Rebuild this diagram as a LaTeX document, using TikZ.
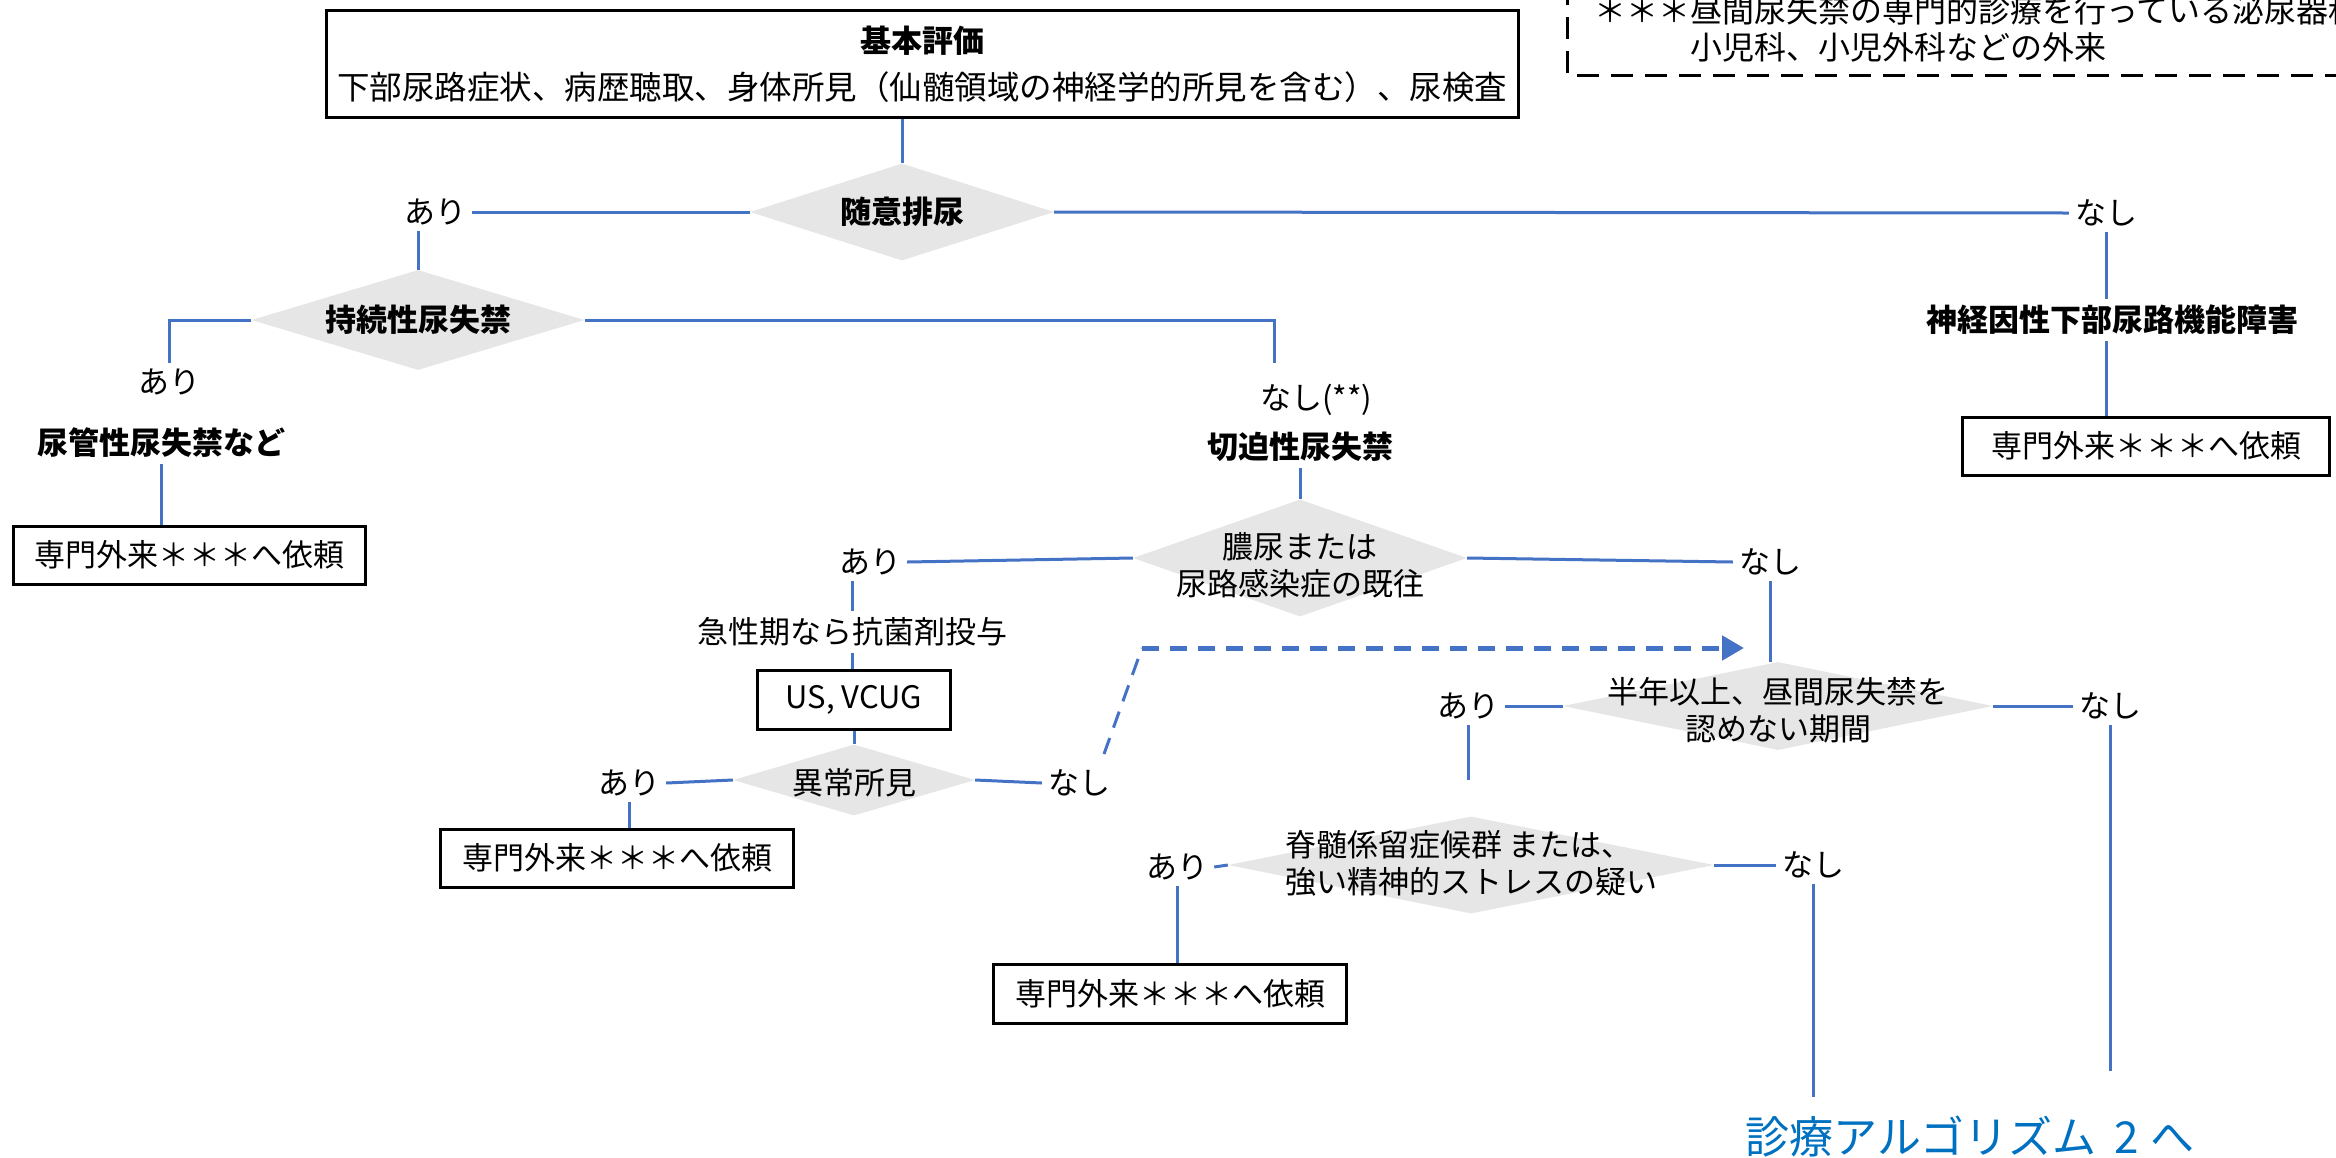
\documentclass[tikz,border=0pt]{standalone}
\usepackage{fontspec}
\setmainfont{Noto Sans CJK JP}
\usetikzlibrary{shapes.geometric,arrows.meta,calc}
\definecolor{lineblue}{HTML}{4472C4}
\definecolor{diagray}{HTML}{E6E6E6}
\definecolor{textblue}{HTML}{0070C0}
\begin{document}
\begin{tikzpicture}[x=1pt,y=-1pt,
  conn/.style={draw=lineblue, line width=3pt},
  dashthin/.style={draw=lineblue, line width=3pt, dash pattern=on 17pt off 11pt},
  dasharrow/.style={draw=lineblue, line width=5pt, dash pattern=on 17pt off 11pt, -{Triangle[length=22pt,width=24pt]}},
  lbl/.style={font=\fontsize{31pt}{37pt}\selectfont, inner sep=6pt},
  boldlbl/.style={font=\fontsize{31pt}{37pt}\selectfont\bfseries, inner sep=6pt},
  dia/.style={shape=diamond, fill=diagray, inner sep=0pt},
  refbox/.style={draw=black, line width=3pt, fill=white, inner sep=0pt, font=\fontsize{31pt}{37pt}\selectfont},
]
\useasboundingbox (0,0) rectangle (2336,1157);

% legend (cut by the page edge)
\draw[black, line width=3pt, dash pattern=on 22pt off 12pt] (2450,-60) rectangle (1567,75);
\node[font=\fontsize{32pt}{37pt}\selectfont, anchor=west, align=left, inner sep=0pt] (legendtxt) at (1594,29)
  {＊＊＊昼間尿失禁の専門的診療を行っている泌尿器科\\\hspace*{96pt}小児科、小児外科などの外来};

% nodes
\node[refbox, minimum width=1192pt, minimum height=107pt, align=center] (top) at (922,64)
  {{\bfseries 基本評価}\\[10pt]{\fontsize{32.5pt}{37pt}\selectfont 下部尿路症状、病歴聴取、身体所見（仙髄領域の神経学的所見を含む）、尿検査}};

\node[dia, minimum width=304pt, minimum height=97pt, label={[boldlbl]center:随意排尿}] (d1) at (902,212) {};
\node[lbl] (ari1) at (435,212) {あり};
\node[lbl] (nashi1) at (2106,213) {なし};
\node[boldlbl] (neuro) at (2112,320) {神経因性下部尿路機能障害};
\node[refbox, minimum width=367pt, minimum height=58pt] (boxR) at (2146,446) {専門外来＊＊＊へ依頼};

\node[dia, minimum width=333pt, minimum height=100pt, label={[boldlbl]center:持続性尿失禁}] (d2) at (418,320) {};
\node[lbl] (ari2) at (169,382) {あり};
\node[boldlbl] (ureter) at (161,443) {尿管性尿失禁など};
\node[refbox, minimum width=352pt, minimum height=58pt] (box1) at (189,555) {専門外来＊＊＊へ依頼};

\coordinate (k1) at (1274,363);
\node[lbl] (nashi2) at (1316,400) {なし(**)};
\node[boldlbl] (urge) at (1300,447) {切迫性尿失禁};

\node[dia, minimum width=334pt, minimum height=117pt,
  label={[lbl, align=center, yshift=-7pt]center:膿尿または\\尿路感染症の既往}] (d3) at (1300,558) {};
\node[lbl] (ari3) at (870,562) {あり};
\node[lbl] (antib) at (852,632) {急性期なら抗菌剤投与};
\node[refbox, minimum width=193pt, minimum height=59pt] (box2) at (854,700) {US, VCUG};
\node[dia, minimum width=242pt, minimum height=71pt, label={[lbl, yshift=-3pt]center:異常所見}] (d6) at (854,780) {};
\node[lbl] (ari4) at (629,783) {あり};
\node[refbox, minimum width=353pt, minimum height=58pt] (box4) at (617,858) {専門外来＊＊＊へ依頼};
\node[lbl] (nashi3) at (1079,783) {なし};
\coordinate (ds) at (1104,754);
\coordinate (dc) at (1142,648);
\coordinate (dend) at (1744,648);

\node[lbl] (nashi4) at (1770,562) {なし};
\node[dia, minimum width=430pt, minimum height=88pt,
  label={[lbl, align=center, yshift=-4pt]center:半年以上、昼間尿失禁を\\認めない期間}] (d4) at (1778,706) {};
\node[lbl] (ari5) at (1468,706) {あり};
\node[lbl] (nashi5) at (2110,706) {なし};

\node[dia, minimum width=486pt, minimum height=97pt,
  label={[lbl, align=left, yshift=2pt]center:脊髄係留症候群 または、\\強い精神的ストレスの疑い}] (d5) at (1471,865) {};
\node[lbl] (ari6) at (1177,867) {あり};
\node[refbox, minimum width=353pt, minimum height=59pt] (box3) at (1170,994) {専門外来＊＊＊へ依頼};
\node[lbl] (nashi6) at (1813,865) {なし};

\coordinate (e1) at (2110,1071);
\coordinate (e2) at (1813,1097);
\node[font=\fontsize{44pt}{50pt}\selectfont, text=textblue, inner sep=0pt] (algo) at (1970,1136)
  {診療アルゴリズム\hspace{18pt}2\hspace{12pt}へ};

% connectors
\draw[conn] (top.south -| d1.north) -- (d1.north);
\draw[conn] (ari1.east) -- (d1.west);
\draw[conn] (d1.east) -- (nashi1.west);
\draw[conn] (nashi1.south) -- (nashi1.south |- neuro.north);
\draw[conn] (nashi1.south |- neuro.south) -- (nashi1.south |- boxR.north);
\draw[conn] (ari1.south -| d2.north) -- (d2.north);
\draw[conn] (d2.west) -| (ari2.north);
\draw[conn] (d2.east) -| (k1);
\draw[conn] (ureter.south) -- (ureter.south |- box1.north);
\draw[conn] (urge.south -| d3.north) -- (d3.north);
\draw[conn] (ari3.east) -- (d3.west);
\draw[conn] (antib.north |- ari3.south) -- (antib.north);
\draw[conn] (antib.south) -- (antib.south |- box2.north);
\draw[conn] (box2.south) -- (box2.south |- d6.north);
\draw[conn] (ari4.east) -- (d6.west);
\draw[conn] (ari4.south) -- (ari4.south |- box4.north);
\draw[conn] (d6.east) -- (nashi3.west);
\draw[dashthin] (ds) -- (dc);
\draw[dasharrow] (dc) -- (dend);
\draw[conn] (d3.east) -- (nashi4.west);
\draw[conn] (nashi4.south) -- (nashi4.south |- d4.north);
\draw[conn] (ari5.east) -- (d4.west);
\draw[conn] (d4.east) -- (nashi5.west);
\draw[conn, shorten >=36pt] (ari5.south) -- (ari5.south |- d5.north);
\draw[conn] (nashi5.south) -- (e1);
\draw[conn] (ari6.east) -- (d5.west);
\draw[conn] (ari6.south) -- (ari6.south |- box3.north);
\draw[conn] (d5.east) -- (nashi6.west);
\draw[conn] (nashi6.south) -- (e2);
\end{tikzpicture}
\end{document}
